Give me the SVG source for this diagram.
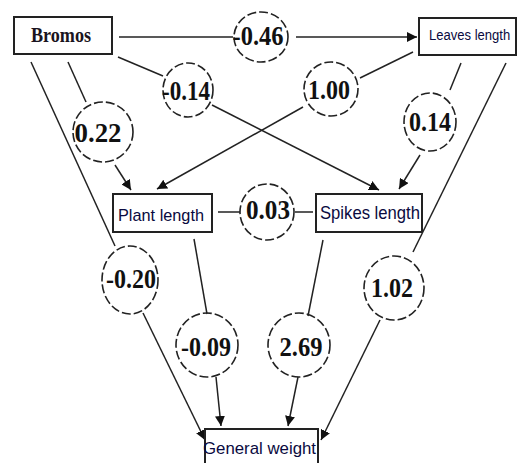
<svg xmlns="http://www.w3.org/2000/svg" width="518" height="463" viewBox="0 0 518 463">
<style>
.box{fill:#fff;stroke:#222;stroke-width:2}
.c{fill:none;stroke:#222;stroke-width:1.6;stroke-dasharray:9 3}
.l{fill:none;stroke:#222;stroke-width:1.5}
.n{font-family:"Liberation Serif",serif;font-weight:bold;font-size:28px;fill:#111;text-anchor:middle}
.s{font-family:"Liberation Sans",Arial,sans-serif;fill:#0a0a40}
</style>
<defs>
<marker id="ah" viewBox="0 0 10 10" refX="10" refY="5" markerWidth="10" markerHeight="10" markerUnits="userSpaceOnUse" orient="auto">
<path d="M0,0 L10,5 L0,10 Z" fill="#111"/>
</marker>
</defs>
<rect width="518" height="463" fill="#fff"/>
<g id="connectors">
<line class="l" x1="119" y1="37" x2="233" y2="37"/>
<line class="l" x1="296" y1="37" x2="417" y2="37" marker-end="url(#ah)"/>
<line class="l" x1="118" y1="57" x2="163" y2="76"/>
<line class="l" x1="212" y1="105" x2="379" y2="190" marker-end="url(#ah)"/>
<line class="l" x1="413" y1="52" x2="360" y2="78"/>
<line class="l" x1="303" y1="107" x2="157" y2="189" marker-end="url(#ah)"/>
<line class="l" x1="68" y1="62" x2="86" y2="102"/>
<line class="l" x1="115" y1="165" x2="131" y2="190" marker-end="url(#ah)"/>
<line class="l" x1="31" y1="62" x2="115" y2="246"/>
<line class="l" x1="143" y1="313" x2="205" y2="440" marker-end="url(#ah)"/>
<line class="l" x1="461" y1="63" x2="450" y2="90"/>
<line class="l" x1="420" y1="155" x2="399" y2="189" marker-end="url(#ah)"/>
<line class="l" x1="506" y1="63" x2="413" y2="252"/>
<line class="l" x1="380" y1="320" x2="321" y2="440" marker-end="url(#ah)"/>
<line class="l" x1="218" y1="212" x2="240" y2="212"/>
<line class="l" x1="295" y1="212" x2="313" y2="212"/>
<line class="l" x1="194" y1="239" x2="207" y2="314"/>
<line class="l" x1="216" y1="377" x2="221" y2="426" marker-end="url(#ah)"/>
<line class="l" x1="323" y1="240" x2="308" y2="316"/>
<line class="l" x1="298" y1="377" x2="288" y2="426" marker-end="url(#ah)"/>
</g>
<g id="n_bromos">
<rect class="box" x="14" y="17" width="98" height="37"/>
<text x="61" y="42" font-family="'Liberation Serif',serif" font-weight="bold" font-size="20" text-anchor="middle" fill="#1a1420" textLength="60" lengthAdjust="spacingAndGlyphs">Bromos</text>
</g>
<g id="n_leaves">
<rect class="box" x="419" y="18" width="97" height="37"/>
<text class="s" transform="translate(429,40) scale(0.87,1)" x="0" y="0" font-size="15">Leaves length</text>
</g>
<g id="n_plant">
<rect class="box" x="113" y="194" width="99" height="38"/>
<text class="s" x="118" y="221" font-size="17" textLength="86" lengthAdjust="spacingAndGlyphs">Plant length</text>
</g>
<g id="n_spikes">
<rect class="box" x="316" y="194" width="106" height="38"/>
<text class="s" x="320" y="219" font-size="19" textLength="100" lengthAdjust="spacingAndGlyphs">Spikes length</text>
</g>
<g id="n_general">
<rect class="box" x="205" y="429" width="113" height="45"/>
<text class="s" x="203" y="454" font-size="17" textLength="113" lengthAdjust="spacingAndGlyphs">General weight</text>
</g>
<g id="c_m046"><ellipse class="c" cx="261" cy="37" rx="27" ry="25"/><text class="n" x="258" y="45" textLength="51" lengthAdjust="spacingAndGlyphs">-0.46</text></g>
<g id="c_m014"><ellipse class="c" cx="188" cy="90" rx="25" ry="27"/><text class="n" x="186" y="100" textLength="48" lengthAdjust="spacingAndGlyphs">-0.14</text></g>
<g id="c_022"><circle class="c" cx="103" cy="132" r="30"/><text class="n" x="98" y="142" textLength="47" lengthAdjust="spacingAndGlyphs">0.22</text></g>
<g id="c_100"><circle class="c" cx="331" cy="89" r="27"/><text class="n" x="329" y="99" textLength="42" lengthAdjust="spacingAndGlyphs">1.00</text></g>
<g id="c_014"><ellipse class="c" cx="430" cy="122" rx="26" ry="29"/><text class="n" x="430" y="131" textLength="42" lengthAdjust="spacingAndGlyphs">0.14</text></g>
<g id="c_003"><ellipse class="c" cx="267" cy="212" rx="27" ry="28"/><text class="n" x="268" y="219" textLength="44" lengthAdjust="spacingAndGlyphs">0.03</text></g>
<g id="c_m020"><ellipse class="c" cx="130" cy="280" rx="28" ry="34"/><text class="n" x="131" y="288" textLength="50" lengthAdjust="spacingAndGlyphs">-0.20</text></g>
<g id="c_102"><ellipse class="c" cx="394" cy="288" rx="30" ry="32"/><text class="n" x="392" y="297" textLength="42" lengthAdjust="spacingAndGlyphs">1.02</text></g>
<g id="c_m009"><ellipse class="c" cx="207" cy="345" rx="31" ry="32"/><text class="n" x="206" y="356" textLength="50" lengthAdjust="spacingAndGlyphs">-0.09</text></g>
<g id="c_269"><ellipse class="c" cx="299" cy="345" rx="31" ry="32"/><text class="n" x="301" y="356" textLength="43" lengthAdjust="spacingAndGlyphs">2.69</text></g>
</svg>
